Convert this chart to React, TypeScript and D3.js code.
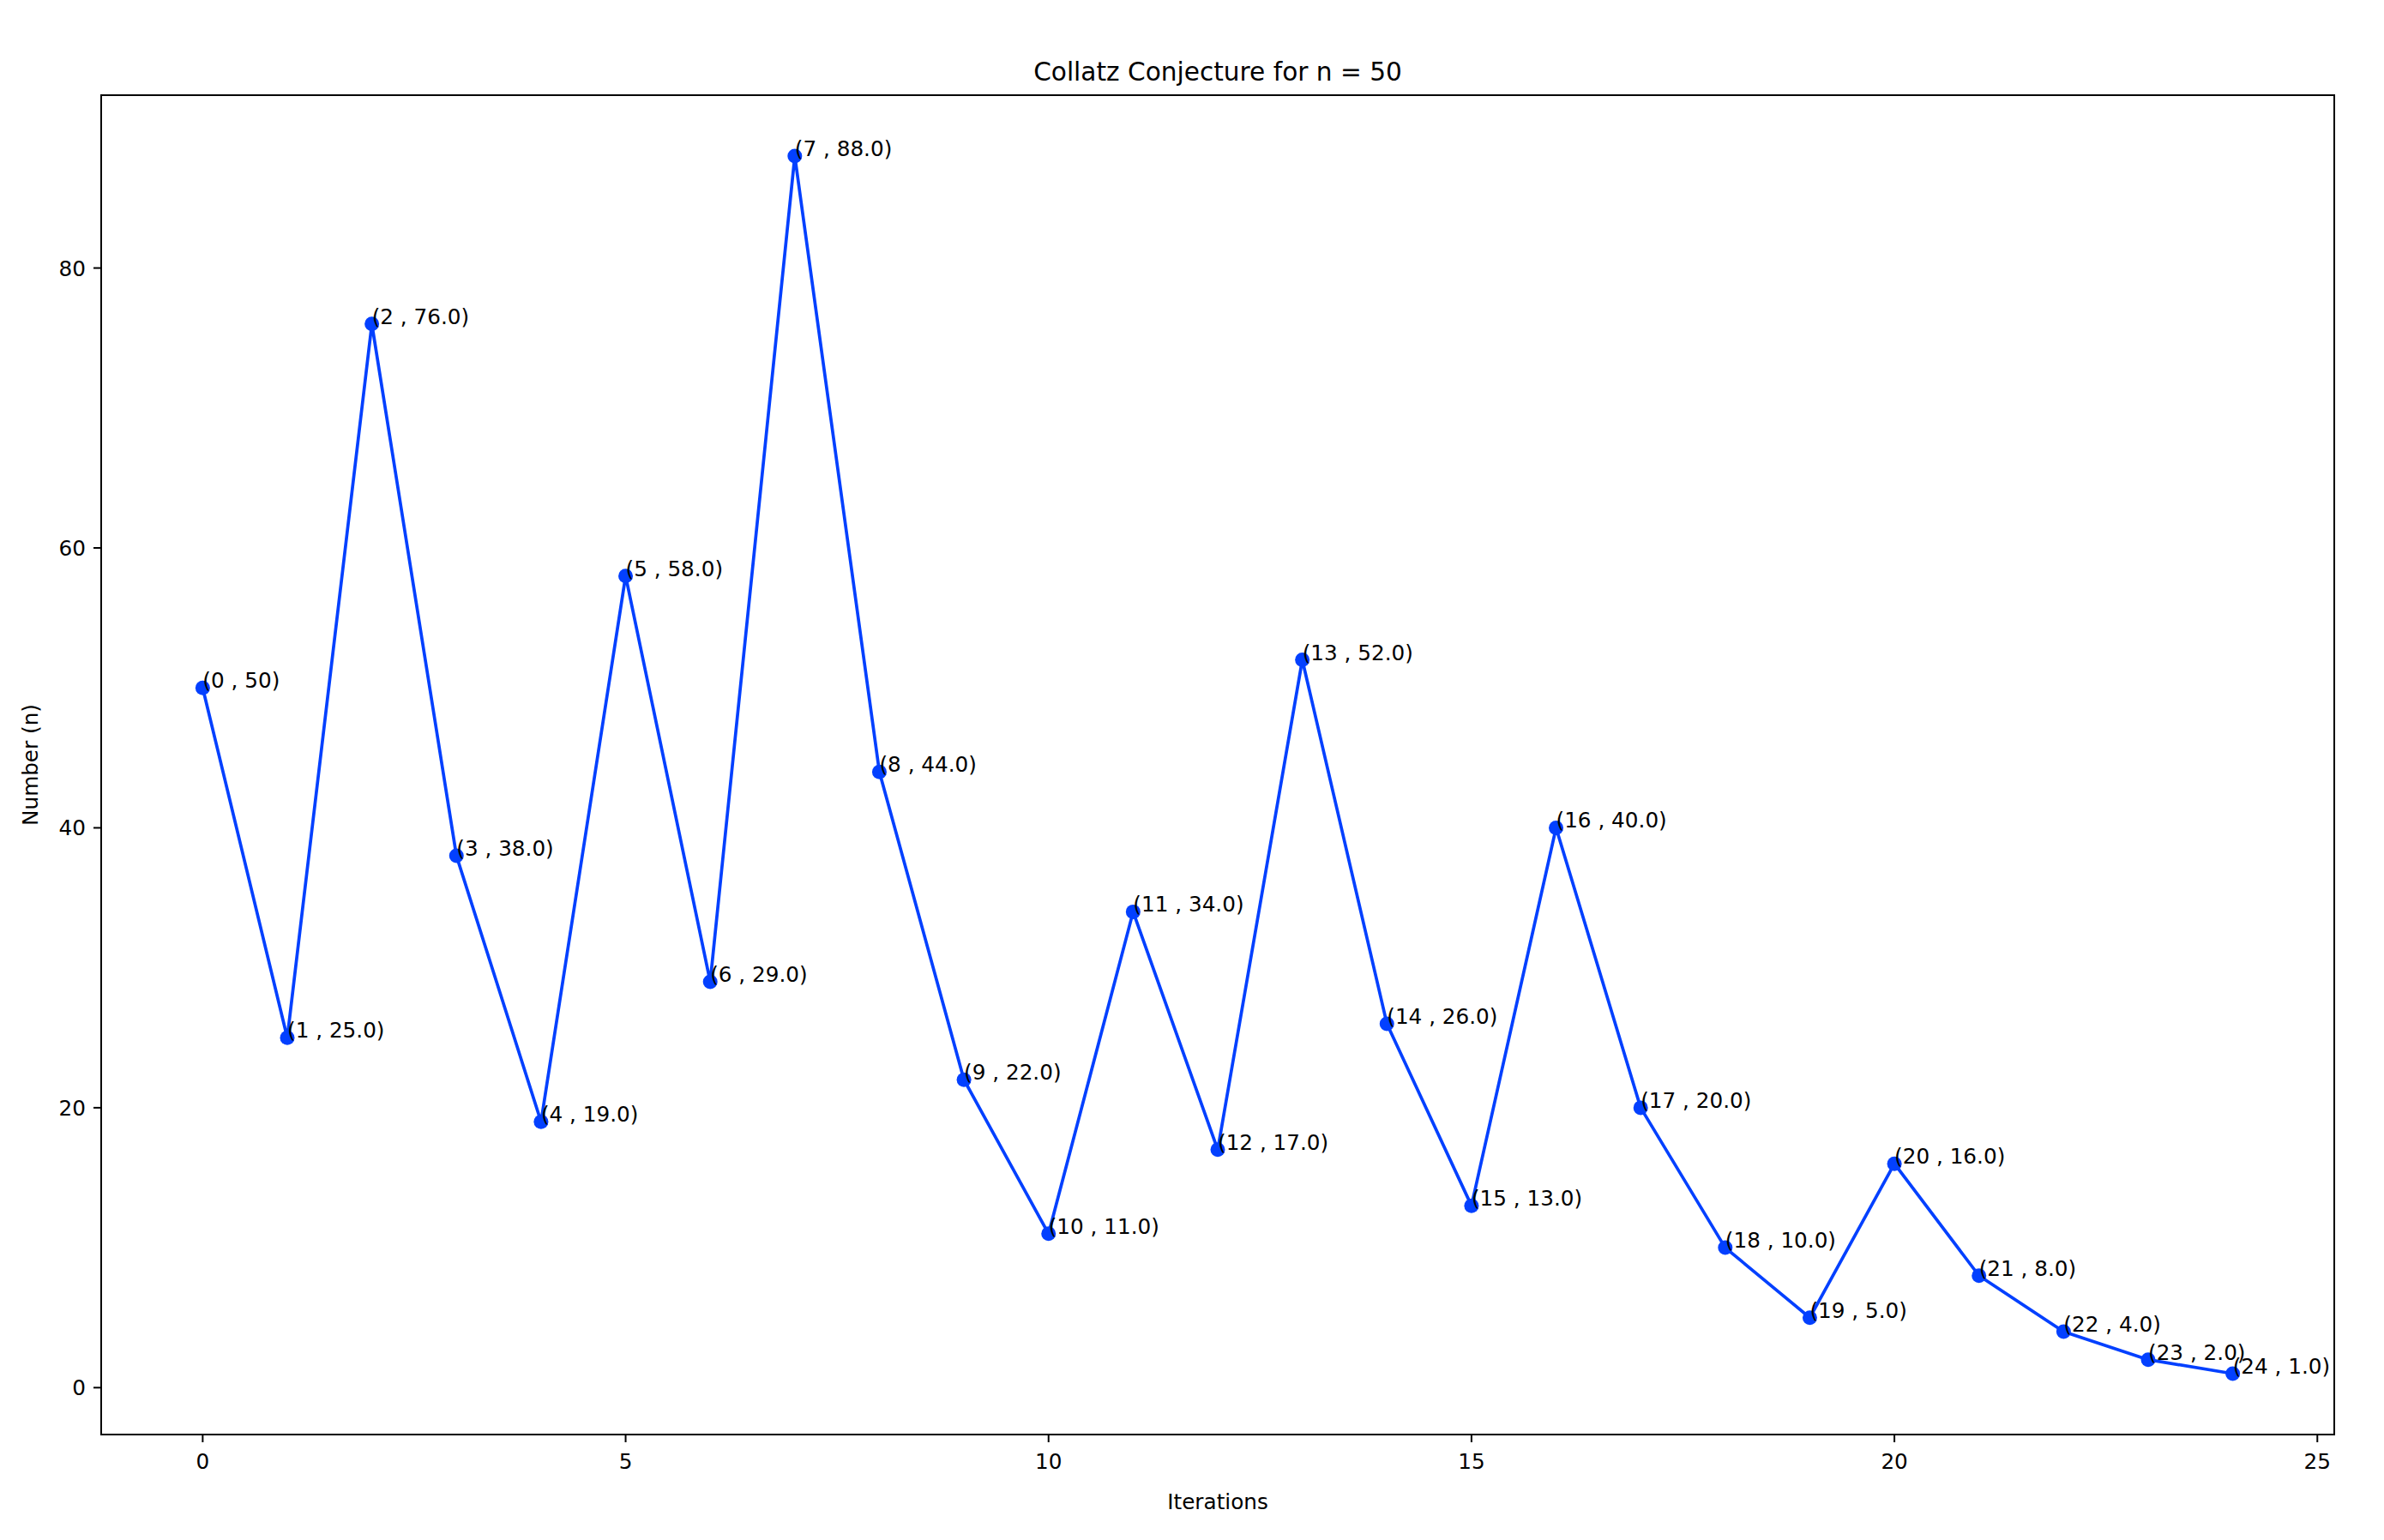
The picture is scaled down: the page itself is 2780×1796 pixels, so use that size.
import React from "react";
import * as d3 from "d3";

const iterations = [0,1,2,3,4,5,6,7,8,9,10,11,12,13,14,15,16,17,18,19,20,21,22,23,24];
const values = [50,25,76,38,19,58,29,88,44,22,11,34,17,52,26,13,40,20,10,5,16,8,4,2,1];
const labels = ["(0 , 50)", ...values.slice(1).map((v, i) => `(${i + 1} , ${v.toFixed(1)})`)];
const xTicks = [0,5,10,15,20,25];
const yTicks = [0,20,40,60,80];

export default function App() {
  const W = 2780, H = 1796;
  const L = 118, R = 2722, T = 111, B = 1673;
  const x = d3.scaleLinear().domain([-1.2, 25.2]).range([L, R]);
  const y = d3.scaleLinear().domain([-3.35, 92.35]).range([B, T]);
  const line = d3.line<number>().x((_, i) => x(iterations[i])).y((d) => y(d));
  const font = "DejaVu Sans";
  const color = "#0340ff";
  return (
    <svg width={W} height={H} style={{ position: "absolute", left: 0, top: 0 }} fontFamily={font}>
      <rect width={W} height={H} fill="white" />
      <text x={(L + R) / 2} y={94} textAnchor="middle" fontSize={29.6}>Collatz Conjecture for n = 50</text>
      <path d={line(values) || ""} fill="none" stroke={color} strokeWidth={3.7} strokeLinejoin="round" />
      {values.map((v, i) => (
        <circle key={i} cx={x(iterations[i])} cy={y(v)} r={8.5} fill={color} />
      ))}
      {values.map((v, i) => (
        <text key={"t" + i} x={x(iterations[i])} y={y(v)} fontSize={24.7}>{labels[i]}</text>
      ))}
      <rect x={L} y={T} width={R - L} height={B - T} fill="none" stroke="black" strokeWidth={2} />
      {xTicks.map((t) => (
        <g key={t}>
          <line x1={x(t)} x2={x(t)} y1={B} y2={B + 9} stroke="black" strokeWidth={2} />
          <text x={x(t)} y={B + 40} textAnchor="middle" fontSize={24.7}>{t}</text>
        </g>
      ))}
      {yTicks.map((t) => (
        <g key={t}>
          <line x1={L - 9} x2={L} y1={y(t)} y2={y(t)} stroke="black" strokeWidth={2} />
          <text x={L - 18} y={y(t) + 9} textAnchor="end" fontSize={24.7}>{t}</text>
        </g>
      ))}
      <text x={(L + R) / 2} y={1760} textAnchor="middle" fontSize={24.7}>Iterations</text>
      <text transform={`translate(44, ${(T + B) / 2}) rotate(-90)`} textAnchor="middle" fontSize={24.7}>Number (n)</text>
    </svg>
  );
}
